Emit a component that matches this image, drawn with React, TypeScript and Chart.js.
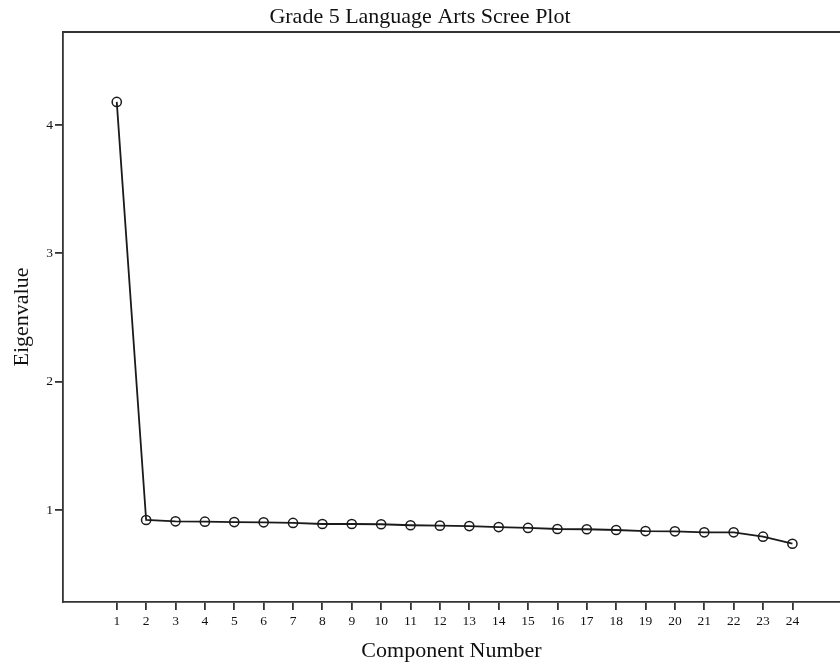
import React, { useEffect, useRef } from "react";
import { Chart, registerables } from "chart.js";

Chart.register(...registerables);

const components = [1, 2, 3, 4, 5, 6, 7, 8, 9, 10, 11, 12, 13, 14, 15, 16, 17, 18, 19, 20, 21, 22, 23, 24];
const eigenvalues = [4.18, 0.922, 0.912, 0.909, 0.906, 0.904, 0.899, 0.891, 0.891, 0.889, 0.881, 0.878, 0.875, 0.867, 0.86, 0.852, 0.85, 0.844, 0.836, 0.834, 0.826, 0.826, 0.792, 0.737];
const yTicks = [1, 2, 3, 4];

const FONT = "'Liberation Serif', 'Times New Roman', serif";

const topBorder = {
  id: "topBorder",
  afterDraw(chart: any) {
    const { ctx, chartArea } = chart;
    ctx.save();
    ctx.strokeStyle = "#333";
    ctx.lineWidth = 1.8;
    ctx.beginPath();
    ctx.moveTo(chartArea.left, chartArea.top);
    ctx.lineTo(chartArea.right, chartArea.top);
    ctx.stroke();
    ctx.restore();
  },
};

export default function App() {
  const ref = useRef<HTMLCanvasElement>(null);
  useEffect(() => {
    if (!ref.current) return;
    const chart = new Chart(ref.current, {
      type: "line",
      data: {
        datasets: [
          {
            data: components.map((c, i) => ({ x: c, y: eigenvalues[i] })),
            borderColor: "#1a1a1a",
            borderWidth: 1.8,
            pointRadius: 4.6,
            pointBorderWidth: 1.5,
            pointBorderColor: "#1a1a1a",
            pointBackgroundColor: "rgba(0,0,0,0)",
            tension: 0,
          },
        ],
      },
      plugins: [topBorder],
      options: {
        animation: false,
        responsive: false,
        layout: { padding: 0, autoPadding: false },
        plugins: {
          legend: { display: false },
          tooltip: { enabled: false },
          title: {
            display: true,
            text: "Grade 5 Language Arts Scree Plot",
            color: "#111",
            font: { family: FONT, size: 22, weight: "normal" },
            padding: { top: 3.8, bottom: 1.8 },
          },
        },
        scales: {
          x: {
            type: "linear",
            min: -0.83,
            max: 25.62,
            afterBuildTicks: (s: any) => {
              s.ticks = components.map((v) => ({ value: v }));
            },
            afterFit: (s: any) => {
              s.height = 66;
              s.paddingLeft = 0;
              s.paddingRight = 0;
            },
            grid: { display: true, drawOnChartArea: false, drawTicks: true, tickLength: 8, color: "#333", lineWidth: 1.8 },
            border: { display: true, color: "#333", width: 1.8 },
            ticks: {
              color: "#111",
              font: { family: FONT, size: 13.5 },
              padding: 3,
              autoSkip: false,
              maxRotation: 0,
              callback: (v: any) => String(v),
            },
            title: {
              display: true,
              text: "Component Number",
              color: "#111",
              font: { family: FONT, size: 22 },
              padding: { top: 0, bottom: 3.8 },
            },
          },
          y: {
            type: "linear",
            min: 0.283,
            max: 4.725,
            afterBuildTicks: (s: any) => {
              s.ticks = yTicks.map((v) => ({ value: v }));
            },
            afterFit: (s: any) => {
              s.width = 63;
              s.paddingTop = 0;
              s.paddingBottom = 0;
            },
            grid: { display: true, drawOnChartArea: false, drawTicks: true, tickLength: 8, color: "#333", lineWidth: 1.8 },
            border: { display: true, color: "#333", width: 1.8 },
            ticks: {
              color: "#111",
              font: { family: FONT, size: 13.5 },
              padding: 2,
              callback: (v: any) => String(v),
            },
            title: {
              display: true,
              text: "Eigenvalue",
              color: "#111",
              font: { family: FONT, size: 22 },
              padding: { top: 9, bottom: 0 },
            },
          },
        },
      },
    });
    return () => chart.destroy();
  }, []);
  return (
    <div style={{ position: "fixed", left: 0, top: 0, width: 840, height: 668, background: "#fff" }}>
      <canvas ref={ref} width={840} height={668} style={{ width: 840, height: 668, display: "block" }} />
    </div>
  );
}
